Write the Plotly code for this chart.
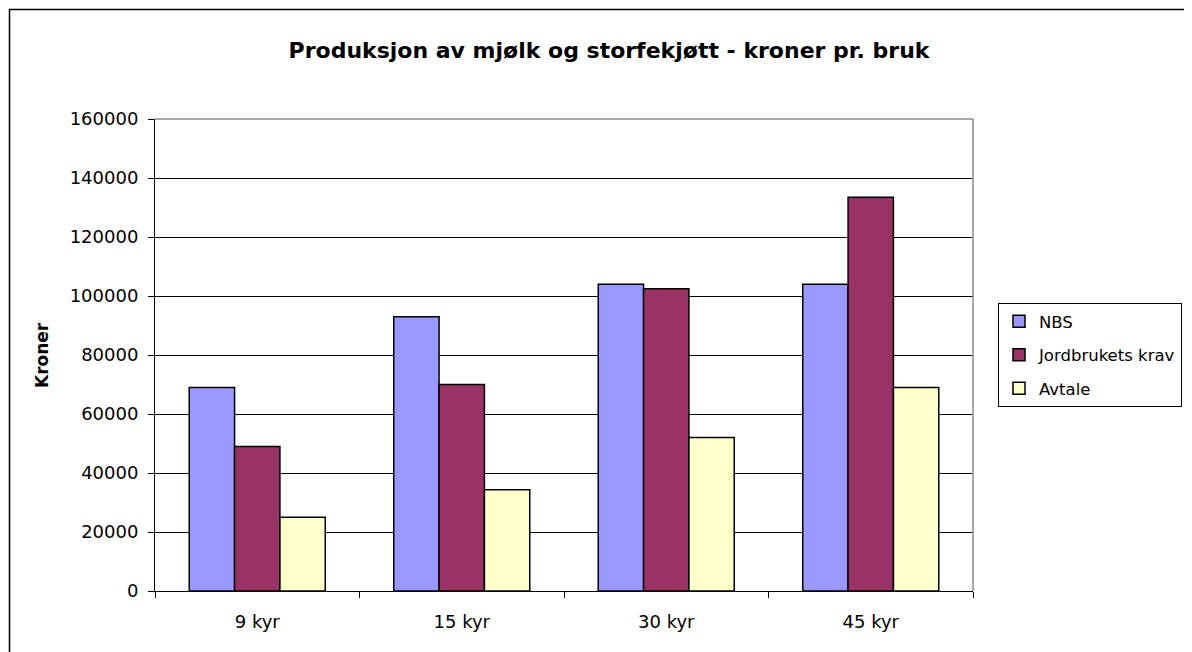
import plotly.graph_objects as go

categories = ["9 kyr", "15 kyr", "30 kyr", "45 kyr"]
nbs = [69000, 93000, 104000, 104000]
jordbruk = [49000, 70000, 102500, 133500]
avtale = [25000, 34300, 52000, 69000]
y_ticks = [0, 20000, 40000, 60000, 80000, 100000, 120000, 140000, 160000]

FONT = "DejaVu Sans"

fig = go.Figure()
series = [("NBS", nbs, "#9999FF"), ("Jordbrukets krav", jordbruk, "#993366"), ("Avtale", avtale, "#FFFFCC")]
for name, vals, col in series:
    fig.add_trace(go.Bar(x=categories, y=vals, name=name, legendgroup=name,
                         marker=dict(color=col, line=dict(color="black", width=1.5))))

# page body has an 8px margin; work in screen coordinates and shift
OFF = 8
W, H = 1192 - OFF, 652 - OFF
L, R, T, B = 155 - OFF, 973 - OFF, 119 - OFF, 591 - OFF
pw, ph = R - L, B - T

def px(x):
    return (x - OFF - L) / pw

def py(y):
    return (B - (y - OFF)) / ph

fig.update_layout(
    width=W, height=H,
    margin=dict(l=L, r=W - R, t=T, b=H - B, autoexpand=False),
    paper_bgcolor="white", plot_bgcolor="white",
    barmode="group", bargap=0.335, bargroupgap=0,
    font=dict(family=FONT, size=18, color="black"),
    title=dict(text="<b>Produksjon av mjølk og storfekjøtt - kroner pr. bruk</b>",
               xref="container", x=(609 - OFF) / W, xanchor="center",
               yref="container", y=1 - (50 - OFF) / H, yanchor="middle",
               font=dict(family=FONT, size=22, color="black")),
    legend=dict(x=px(998), xanchor="left", y=py(303), yanchor="top",
                bordercolor="black", borderwidth=1, bgcolor="white",
                font=dict(family=FONT, size=16.5, color="black"),
                tracegroupgap=9, itemclick=False),
    showlegend=True,
)
fig.update_xaxes(type="category", showline=True, linecolor="black", linewidth=1,
                 ticks="outside", tickson="boundaries", ticklen=6, tickcolor="black",
                 showgrid=False, tickfont=dict(family=FONT, size=18), ticklabelstandoff=14)
fig.update_yaxes(range=[0, 160000], tickvals=y_ticks, ticktext=[str(v) for v in y_ticks],
                 showline=True, linecolor="black", linewidth=1,
                 ticks="outside", ticklen=6, tickcolor="black",
                 showgrid=True, gridcolor="black", gridwidth=1, zeroline=False,
                 tickfont=dict(family=FONT, size=18), ticklabelstandoff=6)

fig.add_annotation(text="<b>Kroner</b>", textangle=-90, xref="paper", yref="paper",
                   x=px(42), y=0.5, xanchor="center", yanchor="middle", showarrow=False,
                   font=dict(family=FONT, size=17, color="black"))

# plot area border (top & right, grey)
fig.add_shape(type="line", xref="paper", yref="paper", x0=0, x1=1, y0=1, y1=1,
              line=dict(color="#8c8c8c", width=1.5), layer="above")
fig.add_shape(type="line", xref="paper", yref="paper", x0=1, x1=1, y0=0, y1=1,
              line=dict(color="#8c8c8c", width=1.5), layer="above")
# outer chart border
fig.add_shape(type="rect", xref="paper", yref="paper", x0=px(9.5), x1=px(1210),
              y0=py(670), y1=py(9.5), line=dict(color="black", width=1.5), layer="below")

fig.write_html("out.html")
